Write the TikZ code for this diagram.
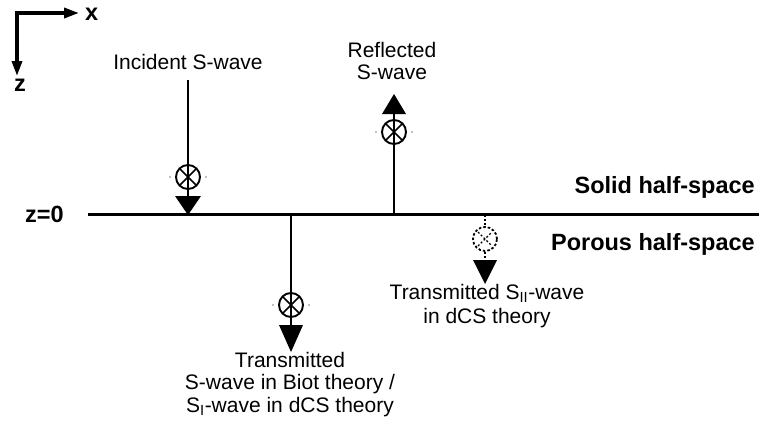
\documentclass[tikz,border=0pt]{standalone}
\usepackage{fontspec}
\setmainfont{Liberation Sans}
\usetikzlibrary{arrows.meta}

\tikzset{
  wave/.style={line width=2pt},
  interface/.style={line width=3pt},
  axis/.style={line width=3.4pt, line join=miter},
  txt/.style={inner sep=0pt, align=center, font=\fontsize{21}{22.5}\selectfont},
  boldtxt/.style={inner sep=0pt, font=\fontsize{23.5}{26}\selectfont\bfseries},
  % polarisation mark: circle with a cross, plus two small side dots
  crossmark/.pic={
    \draw[line width=1.9pt] (0,0) circle (12pt);
    \draw[line width=1.6pt] (-8.5,-8.5) -- (8.5,8.5) (-8.5,8.5) -- (8.5,-8.5);
    \fill[gray] (-18,0) circle (0.9pt) (18,0) circle (0.9pt);
  },
  dashedcross/.pic={
    \draw[line width=1.8pt, dash pattern=on 2.5pt off 2pt] (0,0) circle (12pt);
    \draw[line width=1.4pt, dash pattern=on 2pt off 2pt] (-7,-7) -- (7,7) (-7,7) -- (7,-7);
  }
}

\begin{document}
\begin{tikzpicture}[x=1pt, y=-1pt]
\useasboundingbox (0,0) rectangle (772,426);

% coordinate axes
\draw[axis, {Triangle[length=15pt,width=10pt]}-{Triangle[length=15pt,width=10pt]}]
  (79,13) -- (17,13) -- (17,76);
\node[boldtxt, anchor=base west] (xlab) at (85,20) {x};
\node[boldtxt, anchor=base] (zlab) at (20,91) {z};

% interface z=0
\coordinate (ifL) at (88,214);
\coordinate (ifR) at (759,214);
\draw[interface] (ifL) -- (ifR);
\node[boldtxt, anchor=base west] (zzero) at (25,222) {z=0};
\node[boldtxt, anchor=base east] (solid) at (755,193) {Solid half-space};
\node[boldtxt, anchor=base east] (porous) at (755,250) {Porous half-space};

% incident S-wave
\node[txt, anchor=north] (inclab) at (188,54) {Incident S-wave};
\coordinate (incTop) at (188,80);
\coordinate (incTip) at (188,215);
\draw[wave] (incTop) -- (188,197);
\pic at (188,177) {crossmark};
\fill (175,196) -- (201,196) -- (incTip) -- cycle;

% reflected S-wave
\node[txt, anchor=north] (reflab) at (392,42) {Reflected\\S-wave};
\coordinate (refBase) at (394,214);
\draw[wave] (refBase) -- (394,113);
\pic at (394,132) {crossmark};
\fill (382,114) -- (406,114) -- (394,94) -- cycle;

% transmitted S-wave (Biot) / S_I-wave (dCS)
\coordinate (biotTop) at (291,214);
\draw[wave] (biotTop) -- (291,326);
\pic at (291,305) {crossmark};
\fill (279,325) -- (303,325) -- (291,352) -- cycle;
\node[txt, anchor=north] (biotlab) at (290,352)
  {Transmitted\\S-wave in Biot theory /\\S\textsubscript{I}-wave in dCS theory};

% transmitted S_II-wave (dCS)
\coordinate (siiTop) at (485,215);
\draw[line width=1.5pt, dash pattern=on 2pt off 2pt] (siiTop) -- (485,226);
\pic at (485,239) {dashedcross};
\draw[line width=1.5pt, dash pattern=on 2pt off 2pt] (485,252) -- (485,261);
\fill (473,260) -- (497,260) -- (485,284) -- cycle;
\node[txt, anchor=north] (siilab) at (487,284)
  {Transmitted S\textsubscript{II}-wave\\[2pt]in dCS theory};
\end{tikzpicture}
\end{document}
